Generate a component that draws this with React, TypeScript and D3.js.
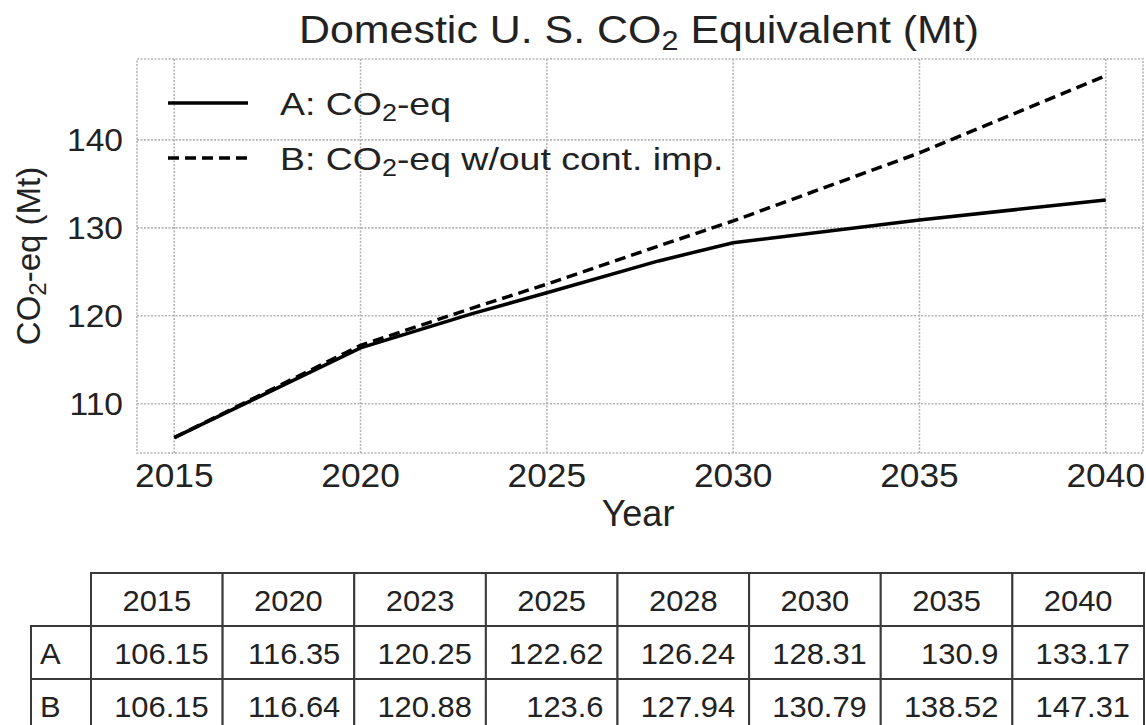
import React from 'react';
import * as d3 from 'd3';

const years = [2015, 2020, 2023, 2025, 2028, 2030, 2035, 2040];
const seriesA = [106.15, 116.35, 120.25, 122.62, 126.24, 128.31, 130.9, 133.17];
const seriesB = [106.15, 116.64, 120.88, 123.6, 127.94, 130.79, 138.52, 147.31];
const tableA = ['106.15', '116.35', '120.25', '122.62', '126.24', '128.31', '130.9', '133.17'];
const tableB = ['106.15', '116.64', '120.88', '123.6', '127.94', '130.79', '138.52', '147.31'];
const xTicks = [2015, 2020, 2025, 2030, 2035, 2040];
const yTicks = [110, 120, 130, 140];
const xDomain: [number, number] = [2014, 2041];
const yDomain: [number, number] = [104.4, 149.2];

const FONT = '"Liberation Sans", Arial, Helvetica, sans-serif';
const GRID = '#b4b4b4';
const BORDER = '#3a3a3a';
const INK = '#222';

const plot = { left: 137, right: 1143, top: 59, bottom: 453 };
const tbl = { left: 31, first: 91, right: 1144, top: 573, rowH: 53 };

// text stretched horizontally a little, like the source image
const T: React.FC<{
  x: number;
  y: number;
  sx?: number;
  size: number;
  anchor?: 'start' | 'middle' | 'end';
  baseline?: string;
  children: React.ReactNode;
}> = ({ x, y, sx = 1, size, anchor = 'start', baseline, children }) => (
  <text
    transform={`translate(${x},${y}) scale(${sx},1)`}
    fontSize={size}
    textAnchor={anchor}
    dominantBaseline={baseline}
    fill={INK}
  >
    {children}
  </text>
);

const App: React.FC = () => {
  const x = d3.scaleLinear().domain(xDomain).range([plot.left, plot.right]);
  const y = d3.scaleLinear().domain(yDomain).range([plot.bottom, plot.top]);

  const line = d3
    .line<number>()
    .x((_, i) => x(years[i]))
    .y(d => y(d));

  const col = d3
    .scaleBand<number>()
    .domain(d3.range(years.length))
    .range([tbl.first, tbl.right]);
  const cw = col.bandwidth();

  const rows = [
    { label: 'A', vals: tableA },
    { label: 'B', vals: tableB },
  ];

  return (
    <svg
      width={1146}
      height={725}
      style={{ position: 'absolute', left: 0, top: 0, background: '#fff' }}
      fontFamily={FONT}
    >
      {/* title */}
      <T x={(plot.left + plot.right) / 2 - 1} y={43} sx={1.13} size={38} anchor="middle">
        Domestic U. S. CO
        <tspan fontSize={27} dy={7}>2</tspan>
        <tspan dy={-7}> Equivalent (Mt)</tspan>
      </T>

      {/* grid */}
      <g stroke={GRID} strokeWidth={1.6} strokeDasharray="2,1.5">
        {xTicks.map(t => (
          <line key={'gx' + t} x1={x(t)} x2={x(t)} y1={plot.top} y2={plot.bottom} />
        ))}
        {yTicks.map(t => (
          <line key={'gy' + t} x1={plot.left} x2={plot.right} y1={y(t)} y2={y(t)} />
        ))}
        <rect
          x={plot.left}
          y={plot.top}
          width={plot.right - plot.left}
          height={plot.bottom - plot.top}
          fill="none"
        />
      </g>

      {/* tick labels */}
      {xTicks.map(t => (
        <T key={'tx' + t} x={x(t)} y={plot.bottom + 34} sx={1.07} size={33} anchor="middle">
          {t}
        </T>
      ))}
      {yTicks.map(t => (
        <T key={'ty' + t} x={plot.left - 14} y={y(t)} sx={1.05} size={32} anchor="end" baseline="central">
          {t}
        </T>
      ))}

      {/* axis labels */}
      <T x={(plot.left + plot.right) / 2 - 2} y={526} size={36} anchor="middle">
        Year
      </T>
      <text
        transform={`translate(40, ${(plot.top + plot.bottom) / 2}) rotate(-90)`}
        textAnchor="middle"
        fontSize={33}
        fill={INK}
      >
        CO
        <tspan fontSize={24} dy={6}>2</tspan>
        <tspan dy={-6}>-eq (Mt)</tspan>
      </text>

      {/* series */}
      <path d={line(seriesB) ?? ''} fill="none" stroke="#000" strokeWidth={3.5} strokeDasharray="11,6" />
      <path d={line(seriesA) ?? ''} fill="none" stroke="#000" strokeWidth={3.5} />

      {/* legend */}
      <line x1={168} x2={248} y1={103} y2={103} stroke="#000" strokeWidth={3.5} />
      <T x={280} y={115} sx={1.17} size={32}>
        A: CO
        <tspan fontSize={23} dy={6}>2</tspan>
        <tspan dy={-6}>-eq</tspan>
      </T>
      <line x1={168} x2={248} y1={158} y2={158} stroke="#000" strokeWidth={3.5} strokeDasharray="11,6" />
      <T x={280} y={170} sx={1.17} size={32}>
        B: CO
        <tspan fontSize={23} dy={6}>2</tspan>
        <tspan dy={-6}>-eq w/out cont. imp.</tspan>
      </T>

      {/* table */}
      <g>
        {years.map((yr, i) => (
          <g key={'h' + yr}>
            <rect
              x={col(i)}
              y={tbl.top}
              width={cw}
              height={tbl.rowH}
              fill="#fff"
              stroke={BORDER}
              strokeWidth={2}
            />
            <T x={(col(i) ?? 0) + cw / 2} y={tbl.top + tbl.rowH / 2 + 1} sx={1.03} size={30} anchor="middle" baseline="central">
              {yr}
            </T>
          </g>
        ))}
        {rows.map((r, ri) => {
          const top = tbl.top + tbl.rowH * (ri + 1);
          return (
            <g key={r.label}>
              <rect
                x={tbl.left}
                y={top}
                width={tbl.first - tbl.left}
                height={tbl.rowH}
                fill="#fff"
                stroke={BORDER}
                strokeWidth={2}
              />
              <T x={tbl.left + 9} y={top + tbl.rowH / 2 + 1} sx={1.03} size={30} baseline="central">
                {r.label}
              </T>
              {r.vals.map((v, i) => (
                <g key={r.label + i}>
                  <rect
                    x={col(i)}
                    y={top}
                    width={cw}
                    height={tbl.rowH}
                    fill="#fff"
                    stroke={BORDER}
                    strokeWidth={2}
                  />
                  <T
                    x={(col(i) ?? 0) + cw - 14}
                    y={top + tbl.rowH / 2 + 1}
                    sx={1.03}
                    size={30}
                    anchor="end"
                    baseline="central"
                  >
                    {v}
                  </T>
                </g>
              ))}
            </g>
          );
        })}
      </g>
    </svg>
  );
};

export default App;
